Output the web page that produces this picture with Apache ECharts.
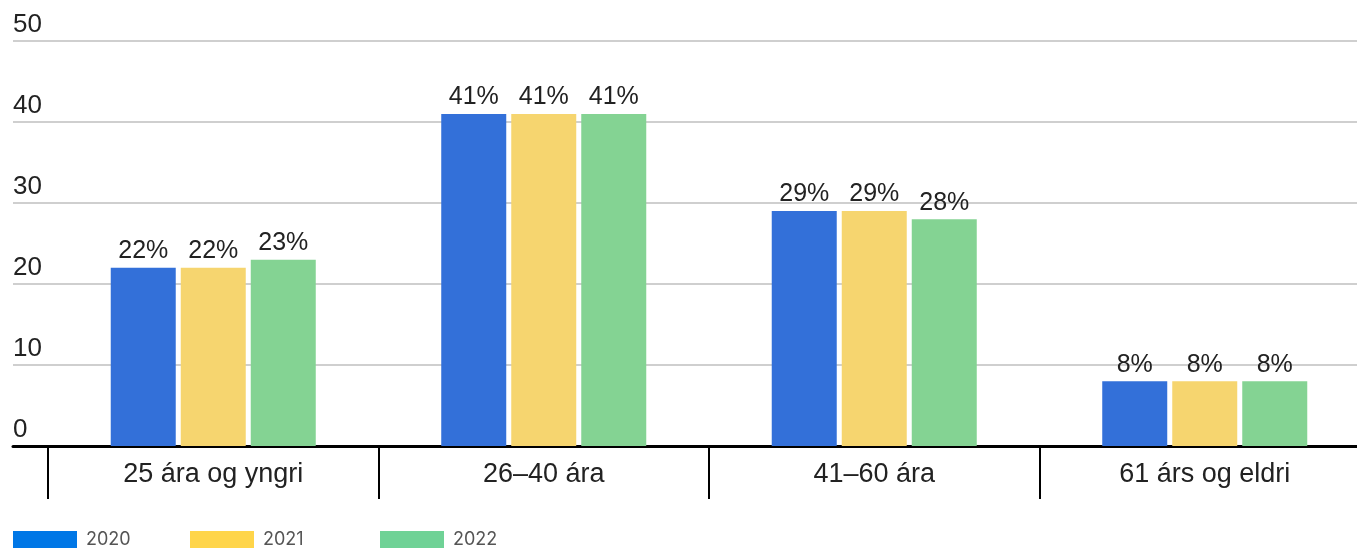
<!DOCTYPE html>
<html>
<head>
<meta charset="utf-8">
<script src="https://cdn.jsdelivr.net/npm/echarts@6/dist/echarts.min.js"></script>
<style>
html,body{margin:0;padding:0;background:#fff;}
#chart{width:1357px;height:548px;}
</style>
</head>
<body>
<div id="chart"></div>
<script>
const categories = ['25 ára og yngri', '26–40 ára', '41–60 ára', '61 árs og eldri'];
const years = ['2020', '2021', '2022'];
const values2020 = [22, 41, 29, 8];
const values2021 = [22, 41, 29, 8];
const values2022 = [23, 41, 28, 8];
const yTicks = [0, 10, 20, 30, 40, 50];

const barColors = ['#3370d9', '#f6d56f', '#84d393'];
const legendColors = ['#0077e6', '#ffd54a', '#6fd296'];
const legendLefts = [13, 190, 380];
const seriesValues = [values2020, values2021, values2022];

const chart = echarts.init(document.getElementById('chart'));
const font = 'Liberation Sans, Arial, sans-serif';

const option = {
  animation: false,
  grid: [
    { left: 13, right: 0, top: 41, height: 405, outerBoundsMode: 'none' },
    { left: 48, width: 1322, top: 41, height: 405, outerBoundsMode: 'none' }
  ],
  xAxis: [
    {
      gridIndex: 0, type: 'value', min: 0, max: 1,
      axisLine: { show: true, lineStyle: { color: '#000', width: 3 } },
      axisTick: { show: false }, axisLabel: { show: false }, splitLine: { show: false }
    },
    {
      gridIndex: 1, type: 'category', data: categories,
      axisLine: { show: false },
      axisTick: { show: true, interval: 0, length: 53, lineStyle: { color: '#000', width: 2 } },
      axisLabel: { interval: 0, margin: 15, fontSize: 27, color: '#222', fontFamily: font }
    }
  ],
  yAxis: [
    {
      gridIndex: 0, type: 'value', min: yTicks[0], max: yTicks[yTicks.length - 1], interval: 10,
      axisLine: { show: false }, axisTick: { show: false },
      axisLabel: {
        margin: 0, align: 'left', verticalAlign: 'bottom', padding: [0, 0, 3, 0],
        fontSize: 26, color: '#222', fontFamily: font
      },
      splitLine: { lineStyle: { color: '#cfcfcf', width: 2 } }
    },
    {
      gridIndex: 1, type: 'value', min: 0, max: 50, interval: 10, show: false,
      splitLine: { show: false }
    }
  ],
  legend: years.map((y, i) => ({
    data: [{ name: y, itemStyle: { color: legendColors[i] } }],
    left: legendLefts[i], top: 531, itemWidth: 64, itemHeight: 18, icon: 'rect',
    padding: 0,
    textStyle: { color: '#555', fontSize: 18, fontFamily: 'Inter, sans-serif', padding: [0, 0, 0, 4] }
  })),
  series: years.map((y, i) => ({
    name: y, type: 'bar', xAxisIndex: 1, yAxisIndex: 1,
    data: seriesValues[i],
    barWidth: 65, barGap: '7.7%',
    itemStyle: { color: barColors[i] },
    label: {
      show: true, position: 'top', distance: 4, formatter: '{c}%',
      fontSize: 25, color: '#222', fontFamily: font
    }
  }))
};
chart.setOption(option);
</script>
</body>
</html>
